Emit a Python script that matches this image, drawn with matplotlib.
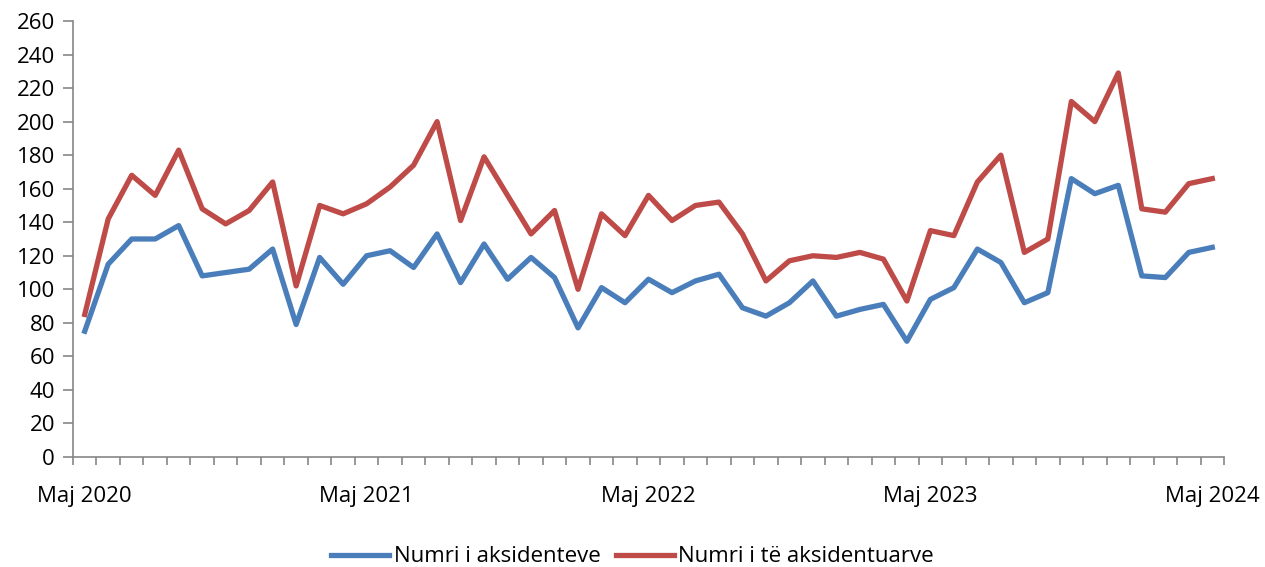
import matplotlib.pyplot as plt
import numpy as np

plt.rcParams['font.family'] = ['Open Sans', 'DejaVu Sans']

# monthly values, Maj 2020 .. Maj 2024
aksidente = [75, 115, 130, 130, 138, 108, 110, 112, 124, 79,
             119, 103, 120, 123, 113, 133, 104, 127, 106, 119,
             107, 77, 101, 92, 106, 98, 105, 109, 89, 84,
             92, 105, 84, 88, 91, 69, 94, 101, 124, 116,
             92, 98, 166, 157, 162, 108, 107, 122, 125]
aksidentuar = [85, 142, 168, 156, 183, 148, 139, 147, 164, 102,
               150, 145, 151, 161, 174, 200, 141, 179, 156, 133,
               147, 100, 145, 132, 156, 141, 150, 152, 133, 105,
               117, 120, 119, 122, 118, 93, 135, 132, 164, 180,
               122, 130, 212, 200, 229, 148, 146, 163, 166]
label_pos = [0, 12, 24, 36, 48]
label_txt = ['Maj 2020', 'Maj 2021', 'Maj 2022', 'Maj 2023', 'Maj 2024']

x = np.arange(len(aksidente))

fig = plt.figure(figsize=(12.65, 5.67), dpi=100)
ax = fig.add_axes([0.0577, 0.194, 0.9099, 0.769])

ax.plot(x, aksidente, color='#4a7ebb', lw=3.8, solid_joinstyle='round',
        label='Numri i aksidenteve')
ax.plot(x, aksidentuar, color='#be4b48', lw=3.8, solid_joinstyle='round',
        label='Numri i të aksidentuarve')

ax.set_xlim(-0.5, len(x) - 0.5)
ax.set_ylim(0, 260)
ax.set_yticks(np.arange(0, 261, 20))

ax.set_xticks(label_pos)
ax.set_xticklabels(label_txt)
ax.set_xticks(np.arange(-0.5, len(x), 1), minor=True)
ax.tick_params(axis='x', which='major', length=0, pad=21, labelsize=16)
ax.tick_params(axis='x', which='minor', length=6, direction='out', color='#868686', width=1.2)
ax.tick_params(axis='y', length=7, color='#868686', width=1.2, labelsize=16, pad=6)

for s in ['top', 'right']:
    ax.spines[s].set_visible(False)
for s in ['left', 'bottom']:
    ax.spines[s].set_color('#868686')
    ax.spines[s].set_linewidth(1.2)

fig.legend(loc='center', bbox_to_anchor=(0.5, 0.018), ncol=2, frameon=False,
           fontsize=16, handlelength=2.6, handletextpad=0.2, columnspacing=0.7)

fig.savefig('out.png', dpi=100)
